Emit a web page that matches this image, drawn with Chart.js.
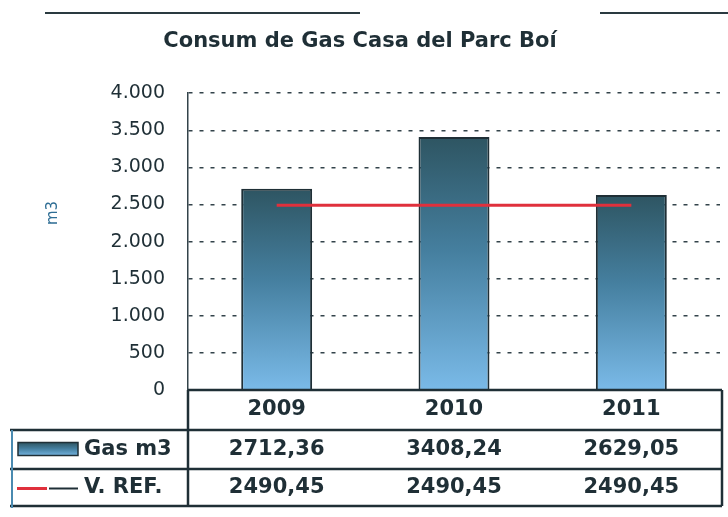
<!DOCTYPE html>
<html>
<head>
<meta charset="utf-8">
<title>Consum de Gas Casa del Parc Boí</title>
<script src="https://cdn.jsdelivr.net/npm/chart.js@4.4.1/dist/chart.umd.min.js"></script>
<style>
    html, body { margin: 0; padding: 0; background: #ffffff; }
    #wrap { width: 728px; height: 517px; position: relative; }
</style>
</head>
<body>
<div id="wrap"><canvas id="gasChart" width="728" height="517"></canvas></div>
<script>
var years = ['2009', '2010', '2011'];
var gasM3 = [2712.36, 3408.24, 2629.05];
var valorRef = [2490.45, 2490.45, 2490.45];
var yTickLabels = { 0: '0', 500: '500', 1000: '1.000', 1500: '1.500', 2000: '2.000', 2500: '2.500', 3000: '3.000', 3500: '3.500', 4000: '4.000' };
var seriesNames = ['Gas m3', 'V. REF.'];

(function () {
    var el = document.getElementById('gasChart');
    if (!el || !window.Chart) return;

    var dark = '#1f2f36';
    var FONT = "'DejaVu Sans', Verdana, sans-serif";

    function fmt(v) {
        return v.toFixed(2).replace('.', ',');
    }

    function barGradient(c, top, bottom) {
        var g = c.createLinearGradient(0, top, 0, bottom);
        g.addColorStop(0, '#2e5562');
        g.addColorStop(0.45, '#457f9f');
        g.addColorStop(1, '#7abae8');
        return g;
    }

    // data table + legend keys under the plot, like the Excel original
    var tablePlugin = {
        id: 'dataTable',
        afterDraw: function (chart) {
            var c = chart.ctx;
            var area = chart.chartArea;
            var bars = chart.getDatasetMeta(0).data;
            var left = area.left, right = area.right + 2;
            var rowY = [area.bottom, 430, 469, 506];
            c.save();

            // scan edge line at the top
            c.strokeStyle = '#2a3a40';
            c.lineWidth = 2;
            c.beginPath();
            c.moveTo(45, 13); c.lineTo(360, 13);
            c.moveTo(600, 13); c.lineTo(728, 13);
            c.stroke();

            // grid of the table
            c.strokeStyle = dark;
            c.lineWidth = 2.5;
            c.beginPath();
            c.moveTo(left, rowY[0]); c.lineTo(right, rowY[0]);
            for (var r = 1; r < rowY.length; r++) {
                c.moveTo(10, rowY[r]); c.lineTo(right, rowY[r]);
            }
            c.moveTo(left, rowY[0]); c.lineTo(left, rowY[3]);
            c.moveTo(right, rowY[0]); c.lineTo(right, rowY[3]);
            c.stroke();

            c.strokeStyle = '#4a8ab0';
            c.lineWidth = 2;
            c.beginPath();
            c.moveTo(12, rowY[1]); c.lineTo(12, rowY[3] + 2);
            c.stroke();

            // cell texts
            c.fillStyle = dark;
            c.font = 'bold 21px ' + FONT;
            c.textAlign = 'center';
            c.textBaseline = 'middle';
            for (var i = 0; i < years.length; i++) {
                var x = bars[i].x;
                c.fillText(years[i], x, (rowY[0] + rowY[1]) / 2);
                c.fillText(fmt(gasM3[i]), x, (rowY[1] + rowY[2]) / 2);
                c.fillText(fmt(valorRef[i]), x, (rowY[2] + rowY[3]) / 2);
            }

            // legend keys
            var y1 = (rowY[1] + rowY[2]) / 2, y2 = (rowY[2] + rowY[3]) / 2;
            c.fillStyle = barGradient(c, y1 - 7, y1 + 7);
            c.fillRect(18, y1 - 7, 60, 13);
            c.strokeStyle = dark;
            c.lineWidth = 1.5;
            c.strokeRect(18, y1 - 7, 60, 13);

            c.strokeStyle = '#e0303c';
            c.lineWidth = 3;
            c.beginPath(); c.moveTo(17, y2 + 1); c.lineTo(47, y2 + 1); c.stroke();
            c.strokeStyle = dark;
            c.lineWidth = 2;
            c.beginPath(); c.moveTo(49, y2 + 1); c.lineTo(78, y2 + 1); c.stroke();

            c.fillStyle = dark;
            c.textAlign = 'left';
            c.fillText(seriesNames[0], 84, y1);
            c.fillText(seriesNames[1], 84, y2);

            // axis unit
            c.translate(53, 213);
            c.rotate(-Math.PI / 2);
            c.fillStyle = '#2f6e95';
            c.font = '15px ' + FONT;
            c.textAlign = 'center';
            c.fillText('m3', 0, 0);
            c.restore();
        }
    };

    new Chart(el.getContext('2d'), {
        data: {
            labels: years,
            datasets: [
                {
                    type: 'bar',
                    label: seriesNames[0],
                    data: gasM3,
                    backgroundColor: function (ctx) {
                        var chart = ctx.chart;
                        var area = chart.chartArea;
                        if (!area) return '#457f9f';
                        var top = chart.scales.y.getPixelForValue(ctx.raw);
                        return barGradient(chart.ctx, top, area.bottom);
                    },
                    borderColor: '#1f2f36',
                    borderWidth: 2,
                    barPercentage: 0.4,
                    categoryPercentage: 1,
                    order: 2
                },
                {
                    type: 'line',
                    label: seriesNames[1],
                    data: valorRef,
                    borderColor: '#e0303c',
                    borderWidth: 3,
                    pointRadius: 0,
                    fill: false,
                    order: 1
                }
            ]
        },
        options: {
            responsive: false,
            animation: false,
            layout: { padding: { left: 0, right: 8, top: 0, bottom: 127 } },
            plugins: {
                legend: { display: false },
                tooltip: { enabled: false },
                title: {
                    display: true,
                    text: 'Consum de Gas Casa del Parc Boí',
                    color: '#1f2f36',
                    font: { family: FONT, size: 21, weight: 'bold' },
                    padding: { top: 29, bottom: 39 }
                }
            },
            scales: {
                x: { display: false },
                y: {
                    min: 0,
                    max: 4000,
                    afterFit: function (scale) { scale.width = 188; },
                    ticks: {
                        stepSize: 500,
                        padding: 23,
                        color: '#1f2f36',
                        font: { family: FONT, size: 19 },
                        callback: function (v) { return yTickLabels[v]; }
                    },
                    grid: {
                        drawTicks: false,
                        color: '#33434a',
                        lineWidth: 1.5
                    },
                    border: { display: true, color: '#33434a', width: 1.5, dash: [4, 7] }
                }
            }
        },
        plugins: [tablePlugin]
    });
})();
</script>
</body>
</html>
